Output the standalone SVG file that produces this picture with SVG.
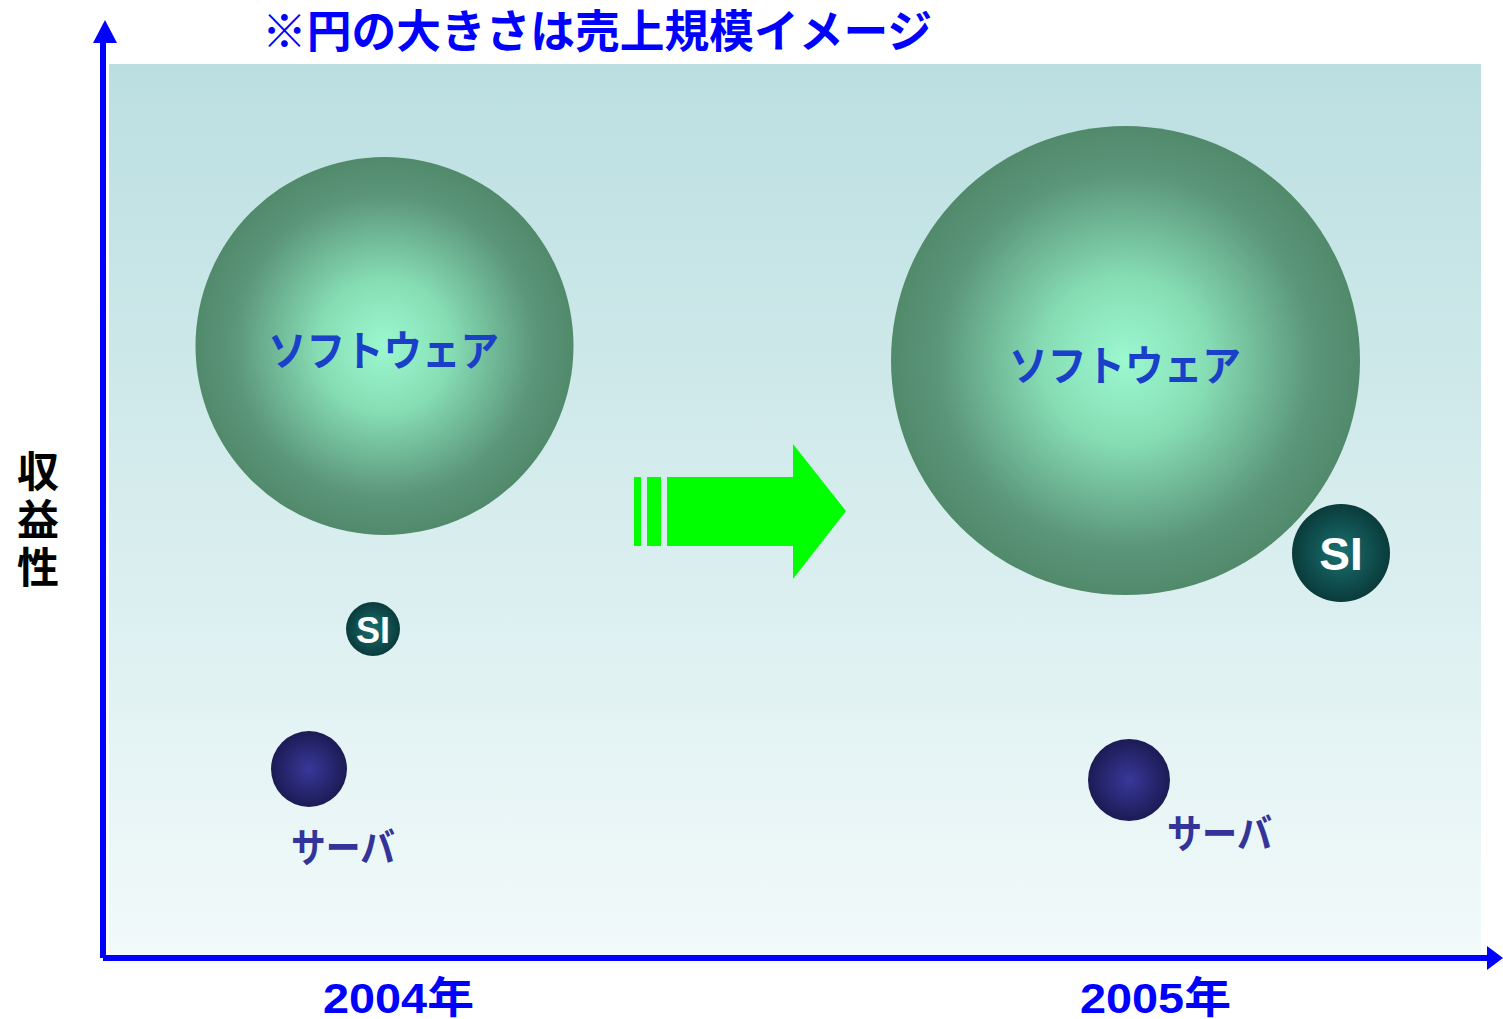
<svg xmlns="http://www.w3.org/2000/svg" width="1503" height="1019" viewBox="0 0 1503 1019">
<style>
.jp{font-family:"Liberation Sans","Noto Sans CJK JP",sans-serif;font-weight:bold}
.title{fill:#0000FF;font-size:45px}
.soft{fill:#1A3FC8;font-size:42px}
.si{fill:#FFFFFF;text-anchor:middle}
.srv{fill:#333399;font-size:40px}
.year{fill:#0000FF;font-size:43px}
.axis{stroke:#0000FF;stroke-width:6;fill:none}
</style>
<defs>
<linearGradient id="bg" x1="0" y1="0" x2="0" y2="1">
<stop offset="0" stop-color="#BBDFE1"/>
<stop offset="1" stop-color="#F2FAFA"/>
</linearGradient>
<radialGradient id="gsoft" cx="0.5" cy="0.5" r="0.5">
<stop offset="0" stop-color="#9CF8CF"/>
<stop offset="0.35" stop-color="#86DDB4"/>
<stop offset="0.8" stop-color="#5B957A"/>
<stop offset="1" stop-color="#518A6B"/>
</radialGradient>
<radialGradient id="gsi" cx="0.5" cy="0.5" r="0.5">
<stop offset="0" stop-color="#1A7070"/>
<stop offset="1" stop-color="#0A3B3B"/>
</radialGradient>
<radialGradient id="gsrv" cx="0.5" cy="0.5" r="0.5">
<stop offset="0" stop-color="#38389A"/>
<stop offset="1" stop-color="#1C1B55"/>
</radialGradient>
</defs>
<rect x="109" y="64" width="1372" height="892" fill="url(#bg)"/>
<g id="connectors">
<line class="axis" x1="103" y1="958" x2="103" y2="40"/>
<polygon points="105,20 117,43 93,43" fill="#0000FF"/>
<line class="axis" x1="103" y1="958" x2="1490" y2="958"/>
<polygon points="1503,958 1487,946 1487,970" fill="#0000FF"/>
</g>
<g id="title"><text class="jp title" x="262" y="48" textLength="670" lengthAdjust="spacingAndGlyphs">※円の大きさは売上規模イメージ</text></g>
<g id="ylabel">
<text class="jp" font-size="42" x="38" y="487" text-anchor="middle" fill="#000">収</text>
<text class="jp" font-size="42" x="38" y="535" text-anchor="middle" fill="#000">益</text>
<text class="jp" font-size="42" x="38" y="583" text-anchor="middle" fill="#000">性</text>
</g>
<g id="software2004">
<circle cx="384.5" cy="346" r="189" fill="url(#gsoft)"/>
<text class="jp soft" x="268" y="366" textLength="231" lengthAdjust="spacingAndGlyphs">ソフトウェア</text>
</g>
<g id="si2004">
<circle cx="373" cy="629" r="27" fill="url(#gsi)"/>
<text class="jp si" font-size="36" x="373" y="643">SI</text>
</g>
<g id="server2004">
<circle cx="309" cy="769" r="38" fill="url(#gsrv)"/>
<text class="jp srv" x="291" y="862" textLength="104" lengthAdjust="spacingAndGlyphs">サーバ</text>
</g>
<g id="arrow">
<rect x="634" y="477" width="7" height="69" fill="#00FF00"/>
<rect x="647" y="477" width="14" height="69" fill="#00FF00"/>
<polygon points="667,477 793,477 793,444 846,511 793,579 793,546 667,546" fill="#00FF00"/>
</g>
<g id="software2005">
<circle cx="1125.5" cy="360.5" r="234.5" fill="url(#gsoft)"/>
<text class="jp soft" x="1009" y="381" textLength="232" lengthAdjust="spacingAndGlyphs">ソフトウェア</text>
</g>
<g id="si2005">
<circle cx="1341" cy="553" r="49" fill="url(#gsi)"/>
<text class="jp si" font-size="46" x="1341" y="570">SI</text>
</g>
<g id="server2005">
<circle cx="1129" cy="780" r="41" fill="url(#gsrv)"/>
<text class="jp srv" x="1167" y="848" textLength="105" lengthAdjust="spacingAndGlyphs">サーバ</text>
</g>
<g id="years">
<text class="jp year" x="323" y="1013" textLength="151" lengthAdjust="spacingAndGlyphs">2004年</text>
<text class="jp year" x="1080" y="1013" textLength="151" lengthAdjust="spacingAndGlyphs">2005年</text>
</g>
</svg>
